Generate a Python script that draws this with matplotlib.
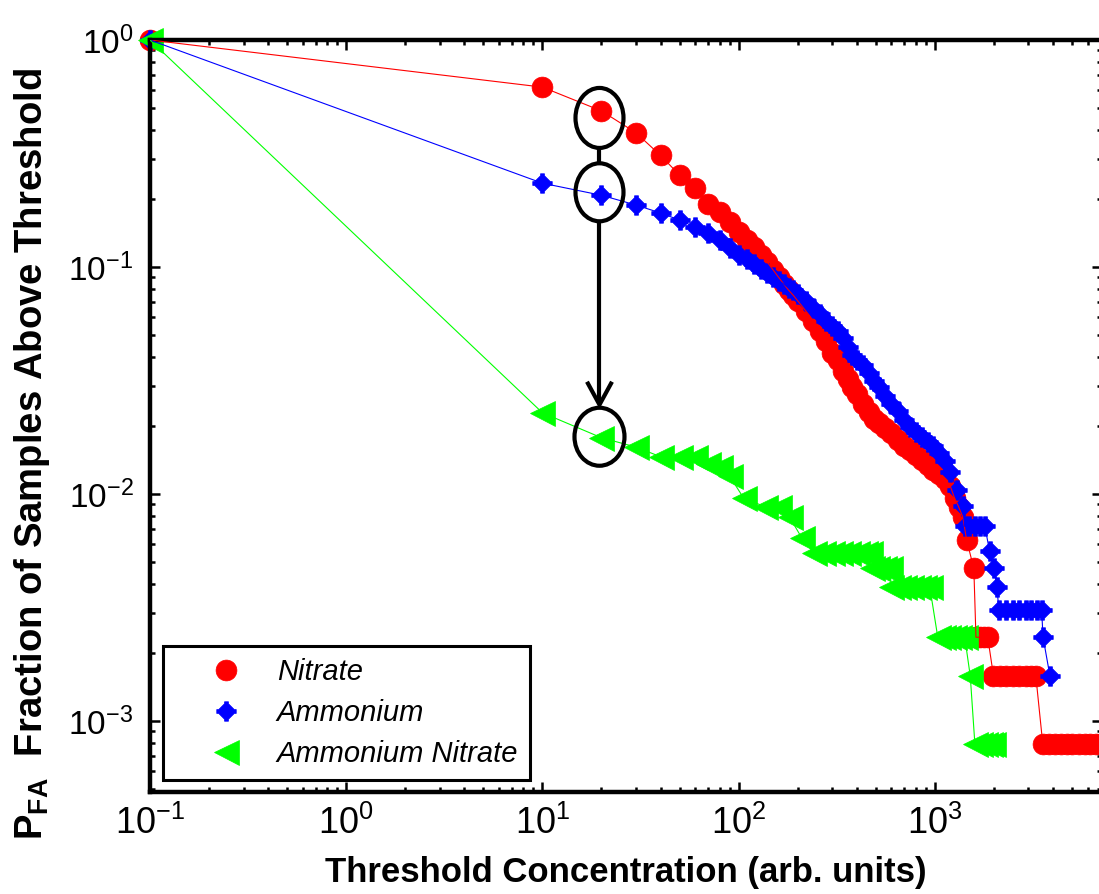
import numpy as np
import matplotlib
matplotlib.use('Agg')
import matplotlib.pyplot as plt
from matplotlib.path import Path
from matplotlib.patches import Ellipse
from matplotlib.lines import Line2D
from matplotlib.transforms import IdentityTransform
from matplotlib.ticker import NullFormatter

plt.rcParams['font.family'] = ['Liberation Sans', 'DejaVu Sans']
plt.rcParams['mathtext.fontset'] = 'custom'
plt.rcParams['mathtext.rm'] = 'Liberation Sans'
plt.rcParams['mathtext.it'] = 'Liberation Sans:italic'
plt.rcParams['mathtext.bf'] = 'Liberation Sans:bold'

### data
nitrate_x = [0.1, 10, 20, 30, 40, 50, 60, 70, 80, 90,
             100, 110, 120, 130, 140, 150, 160, 170, 180, 190, 200,
             220, 240, 260, 280, 300, 320, 340, 360, 380, 400,
             430, 460, 490, 520, 560, 600, 650, 700, 750, 800,
             860, 920, 980, 1050, 1120, 1200, 1260, 1320, 1390, 1450, 1580,
             1620, 1700, 1780, 1860,
             1990, 2150, 2300, 2500, 2700, 2900, 3100, 3270,
             3550, 3800, 4100, 4400, 4700, 5000, 5400, 5800, 6200, 6600, 7000]
nitrate_y = [1.0, 0.62, 0.487, 0.39, 0.31, 0.254, 0.223, 0.19, 0.175, 0.158,
             0.143, 0.132, 0.122, 0.113, 0.105, 0.097, 0.09, 0.084, 0.079, 0.075, 0.071,
             0.064, 0.058, 0.052, 0.047, 0.042, 0.039, 0.035, 0.032, 0.0295, 0.0275,
             0.025, 0.023, 0.0215, 0.0205, 0.0195, 0.0185, 0.0173, 0.0163, 0.0156, 0.0148,
             0.0141, 0.0134, 0.0127, 0.0122, 0.0117, 0.0108, 0.0096, 0.0088, 0.0079, 0.0063, 0.0047,
             0.00234, 0.00234, 0.00234, 0.00234,
             0.00158, 0.00158, 0.00158, 0.00158, 0.00158, 0.00158, 0.00158, 0.00158,
             0.00079, 0.00079, 0.00079, 0.00079, 0.00079, 0.00079, 0.00079, 0.00079,
             0.00079, 0.00079, 0.00079]

ammonium_x = [0.1, 10, 20, 30, 40, 50, 60, 70, 80, 90,
              100, 110, 120, 130, 140, 150, 160, 170, 180, 190, 200,
              220, 240, 260, 280, 300, 320, 340, 360, 380, 400,
              430, 460, 490, 520, 560, 600, 650, 700, 750, 800,
              860, 920, 980, 1050, 1120, 1200, 1300, 1390,
              1420, 1500, 1600, 1700, 1800,
              1900, 2000, 2070,
              2120, 2300, 2500, 2700, 2900, 3100, 3300, 3500,
              3560, 3860]
ammonium_y = [1.0, 0.234, 0.207, 0.1875, 0.173, 0.161, 0.15, 0.141, 0.132, 0.121,
              0.113, 0.108, 0.103, 0.098, 0.094, 0.09, 0.087, 0.084, 0.081, 0.079, 0.076,
              0.071, 0.066, 0.062, 0.058, 0.055, 0.052, 0.0485, 0.0445, 0.041, 0.039,
              0.037, 0.034, 0.0315, 0.0295, 0.027, 0.025, 0.0232, 0.0212, 0.0198, 0.0188,
              0.0178, 0.017, 0.0162, 0.0152, 0.014, 0.0125, 0.0104, 0.0089,
              0.0072, 0.0072, 0.0072, 0.0072, 0.0072,
              0.0056, 0.0047, 0.0039,
              0.0031, 0.0031, 0.0031, 0.0031, 0.0031, 0.0031, 0.0031, 0.0031,
              0.00234, 0.00158]

amm_nitrate_x = [0.1, 10, 20, 30, 40, 50, 60, 70, 80, 90,
                 106, 136, 160, 182, 210,
                 242, 270, 300, 330, 360, 400, 440, 466,
                 477, 510, 550, 590,
                 600, 650, 700, 760, 820, 880, 942,
                 1035, 1100, 1170, 1250, 1330, 1420,
                 1515,
                 1600, 1700, 1800, 1900, 1980]
amm_nitrate_y = [1.0, 0.0228, 0.0177, 0.0161, 0.0146, 0.0146, 0.0145, 0.0136, 0.0132, 0.012,
                 0.0096, 0.0088, 0.0088, 0.0079, 0.0064,
                 0.0055, 0.0055, 0.0055, 0.0055, 0.0055, 0.0055, 0.0055, 0.0055,
                 0.0047, 0.0047, 0.0047, 0.0047,
                 0.0039, 0.0039, 0.0039, 0.0039, 0.0039, 0.0039, 0.0039,
                 0.00234, 0.00234, 0.00234, 0.00234, 0.00234, 0.00234,
                 0.00158,
                 0.00079, 0.00079, 0.00079, 0.00079, 0.00079]

labels = ['Nitrate', 'Ammonium', 'Ammonium Nitrate']
colors = ['#ff0000', '#0000ff', '#00ff00']

# fat diamond with small arms, like the matlab marker in the figure
star = Path([(-0.2, 1), (0.2, 1), (0.2, 0.8), (0.8, 0.2), (1, 0.2), (1, -0.2),
             (0.8, -0.2), (0.2, -0.8), (0.2, -1), (-0.2, -1), (-0.2, -0.8),
             (-0.8, -0.2), (-1, -0.2), (-1, 0.2), (-0.8, 0.2), (-0.2, 0.8),
             (-0.2, 1)], closed=True)


def main():
    fig = plt.figure(figsize=(10.99, 8.94), dpi=100)
    ax = fig.add_axes([150 / 1099, 102 / 894, 952 / 1099, 752 / 894])
    ax.set_xscale('log')
    ax.set_yscale('log')
    ax.set_xlim(0.1, 7110)
    ax.set_ylim(4.87e-4, 1)

    series = [(nitrate_x, nitrate_y, 'o', 15),
              (ammonium_x, ammonium_y, star, 14),
              (amm_nitrate_x, amm_nitrate_y, '<', 18)]

    # markers first, thin connecting lines drawn over them
    for (x, y, m, ms), c, lab in zip(series, colors, labels):
        ax.plot(x, y, ls='none', marker=m, ms=ms, color=c, mec=c, mew=0.5,
                label=lab, zorder=2, clip_on=False)
    for (x, y, m, ms), c in zip(series, colors):
        ax.plot(x, y, '-', color=c, lw=0.8, zorder=3)

    for sp in ax.spines.values():
        sp.set_linewidth(3.2)
    ax.tick_params(which='both', direction='in', top=True, right=True, width=1.8, colors='k')
    ax.tick_params(which='major', length=7)
    ax.tick_params(which='minor', length=3.5)
    ax.xaxis.set_minor_formatter(NullFormatter())
    ax.yaxis.set_minor_formatter(NullFormatter())
    ax.tick_params(axis='x', pad=10, labelsize=26)
    ax.tick_params(axis='y', pad=12, labelsize=24)

    ax.set_xlabel('Threshold Concentration (arb. units)', fontsize=25, fontweight='bold')
    ax.set_ylabel(r'$\mathbf{P}_{\mathbf{FA}}$  Fraction of Samples Above Threshold',
                  fontsize=27.5, fontweight='bold')
    ax.xaxis.set_label_coords(0.5, -0.085)
    ax.yaxis.set_label_coords(-0.103, 0.45)

    leg = ax.legend(loc='lower left', bbox_to_anchor=(13 / 952, 12 / 752), borderaxespad=0,
                    prop={'style': 'italic', 'size': 21}, fancybox=False, edgecolor='k',
                    framealpha=1, handlelength=3.5, handletextpad=0.0, borderpad=0.4,
                    labelspacing=0.45, numpoints=1)
    leg.get_frame().set_linewidth(2.2)

    ### ellipses around the 20-unit points and the arrow between them
    cx, cy_n = ax.transData.transform((20, nitrate_y[nitrate_x.index(20)]))
    _, cy_a = ax.transData.transform((20, ammonium_y[ammonium_x.index(20)]))
    _, cy_g = ax.transData.transform((20, amm_nitrate_y[amm_nitrate_x.index(20)]))
    cx -= 2
    e1 = (cy_n - 7, 48, 60)
    e2 = (cy_a + 3, 48, 58)
    e3 = (cy_g + 1, 50, 58)
    for cy, w, h in (e1, e2, e3):
        fig.add_artist(Ellipse((cx, cy), w, h, transform=IdentityTransform(),
                               fill=False, ec='k', lw=3, zorder=6))
    kw = dict(transform=IdentityTransform(), color='k', lw=3, zorder=6,
              solid_capstyle='butt', solid_joinstyle='miter')
    fig.add_artist(Line2D([cx, cx], [e1[0] - e1[2] / 2, e2[0] + e2[2] / 2], **kw))
    tip = e3[0] + e3[2] / 2 + 3
    fig.add_artist(Line2D([cx, cx], [e2[0] - e2[2] / 2, tip + 2], **kw))
    fig.add_artist(Line2D([cx - 12.5, cx, cx + 12.5], [tip + 23, tip, tip + 23], **kw))

    fig.savefig('out.png', dpi=100, facecolor='white')


if __name__ == "__main__":
    main()
